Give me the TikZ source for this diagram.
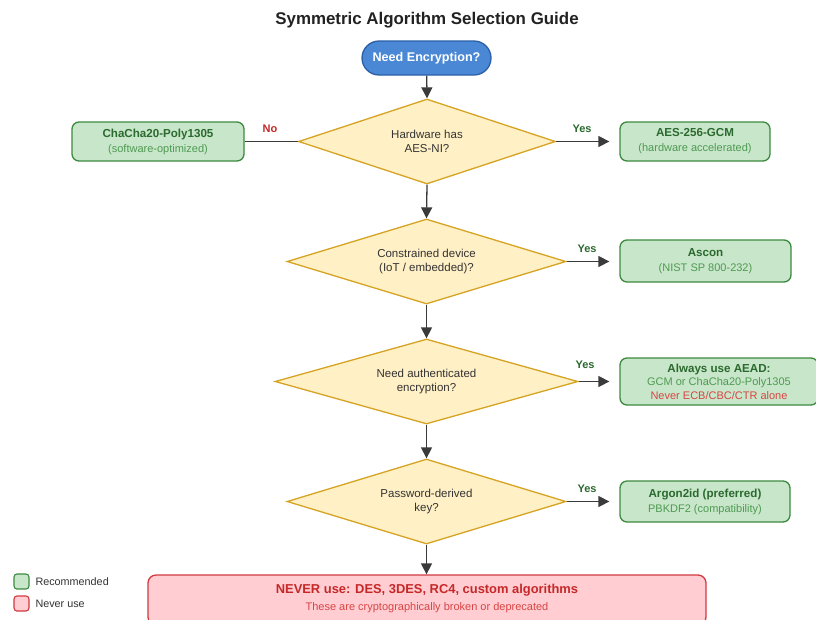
\documentclass[tikz,border=0pt]{standalone}
\usepackage{fontspec}
\setmainfont{Liberation Sans}
\usetikzlibrary{shapes.geometric,arrows.meta}
\definecolor{titlec}{HTML}{222222}
\definecolor{startfill}{HTML}{4A88D6}
\definecolor{startdraw}{HTML}{2B5FA6}
\definecolor{dfill}{HTML}{FFF0C6}
\definecolor{ddraw}{HTML}{D6A323}
\definecolor{gfill}{HTML}{C8E6C9}
\definecolor{gdraw}{HTML}{3C8A40}
\definecolor{gtitle}{HTML}{2B6A2F}
\definecolor{gsub}{HTML}{4F9A53}
\definecolor{rfill}{HTML}{FFCDD2}
\definecolor{rdraw}{HTML}{D03A3F}
\definecolor{rtext}{HTML}{C62828}
\definecolor{rsub}{HTML}{D84545}
\definecolor{linec}{HTML}{3A3A3A}
\definecolor{dtext}{HTML}{333333}
\tikzset{
  startbox/.style={draw=startdraw, fill=startfill, line width=1.3pt, rounded corners=17pt,
    minimum width=129pt, minimum height=34pt, text=white, font=\fontsize{12.6}{14}\selectfont\bfseries},
  decision/.style={diamond, shape aspect=3, inner sep=1pt, draw=ddraw, fill=dfill, line width=1.3pt,
    minimum height=85pt, text=dtext, align=center, font=\fontsize{11.5}{14.5}\selectfont},
  okbox/.style={draw=gdraw, fill=gfill, line width=1.3pt, rounded corners=7pt, align=center,
    font=\fontsize{11}{15}\selectfont},
  ttl/.style={},
  badbox/.style={draw=rdraw, fill=rfill, line width=1.3pt, rounded corners=8pt, align=center},
  flow/.style={draw=linec, line width=1.3pt, -{Triangle[length=11pt,width=11pt]}},
  plain/.style={draw=linec, line width=1.3pt},
  yeslbl/.style={text=gtitle, font=\fontsize{11}{12}\selectfont\bfseries},
  nolbl/.style={text=rtext, font=\fontsize{11}{12}\selectfont\bfseries},
  legbox/.style={rounded corners=3pt, line width=1.1pt, minimum width=15pt, minimum height=15pt, inner sep=0pt},
  legtxt/.style={anchor=west, text=dtext, font=\fontsize{10.8}{12}\selectfont}
}
\newcommand{\gt}[1]{{\fontsize{11.6}{15}\selectfont\bfseries\color{gtitle}#1}}
\newcommand{\gs}[1]{{\color{gsub}#1}}
\begin{document}
\begin{tikzpicture}[x=1pt,y=-1pt]
\useasboundingbox (0,0) rectangle (816,619);
\fill[white] (0,0) rectangle (816,619);

\node[text=titlec, font=\fontsize{16.9}{19}\selectfont\bfseries] (title) at (427,20) {Symmetric Algorithm Selection Guide};

\node[startbox] (start) at (426.5,58) {Need Encryption?};

\node[decision, minimum width=257pt] (d1) at (427,141.5) {Hardware has\\AES-NI?};
\node[decision, minimum width=279pt] (d2) at (426.5,261.5) {Constrained device\\(IoT / embedded)?};
\node[decision, minimum width=303pt] (d3) at (426.5,381.5) {Need authenticated\\encryption?};
\node[decision, minimum width=279pt] (d4) at (426.5,501.5) {Password-derived\\key?};

\node[okbox, minimum width=172pt, minimum height=39pt] (chacha) at (158,141.5)
  {\gt{ChaCha20-Poly1305}\\\gs{(software-optimized)}};
\node[okbox, minimum width=150pt, minimum height=39pt] (aes) at (695,141.5)
  {\gt{AES-256-GCM}\\\gs{(hardware accelerated)}};
\node[okbox, minimum width=171pt, minimum height=42pt] (ascon) at (705.5,261)
  {\gt{Ascon}\\\gs{(NIST SP 800-232)}};
\node[okbox, minimum width=198pt, minimum height=47pt, font=\fontsize{11}{13.5}\selectfont] (aead) at (719,381.5)
  {\gt{Always use AEAD:}\\\gs{GCM or ChaCha20-Poly1305}\\{\color{rsub}Never ECB/CBC/CTR alone}};
\node[okbox, minimum width=170pt, minimum height=41pt] (argon) at (705,501.5)
  {\gt{Argon2id (preferred)}\\\gs{PBKDF2 (compatibility)}};

\node[badbox, minimum width=558pt, minimum height=50pt] (never) at (427,600) {};
\node[text=rtext, font=\fontsize{12.9}{14}\selectfont\bfseries] (nevert) at (427,590) {NEVER use: DES, 3DES, RC4, custom algorithms};
\node[text=rsub, font=\fontsize{11}{12}\selectfont] (nevers) at (427,608) {These are cryptographically broken or deprecated};

% connectors
\draw[flow] (start) -- (d1.north);
\draw[flow] (d1.south) -- (d2.north);
\draw[flow] (d2.south) -- (d3.north);
\draw[flow] (d3.south) -- (d4.north);
\draw[flow] (d4.south) -- (d4.south |- never.north);
\draw[plain] (d1.west) -- (chacha.east);
\draw[flow, shorten >=10pt] (d1.east) -- (aes.west);
\draw[flow, shorten >=10pt] (d2.east) -- (d2.east -| ascon.west);
\draw[flow, shorten >=10pt] (d3.east) -- (d3.east -| aead.west);
\draw[flow, shorten >=10pt] (d4.east) -- (d4.east -| argon.west);

\node[nolbl] (no1) at (270,129) {No};
\node[yeslbl] (y1) at (582,129) {Yes};
\node[yeslbl] (y2) at (587,249) {Yes};
\node[yeslbl] (y3) at (585,365) {Yes};
\node[yeslbl] (y4) at (587,489) {Yes};

% legend
\node[legbox, draw=gdraw, fill=gfill] (lg) at (21.5,581.5) {};
\node[legtxt] (lgt) at (32,582) {Recommended};
\node[legbox, draw=rdraw, fill=rfill] (lr) at (21.5,603.5) {};
\node[legtxt] (lrt) at (32,604) {Never use};
\end{tikzpicture}
\end{document}
